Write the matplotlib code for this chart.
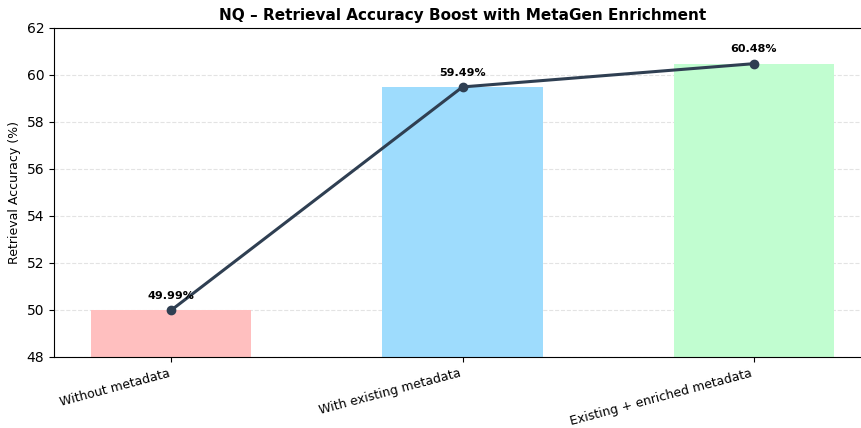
import matplotlib.pyplot as plt
import numpy as np

categories = ['Without metadata', 'With existing metadata', 'Existing + enriched metadata']
accuracy = [49.99, 59.49, 60.48]
bar_colors = ['#ffbfbf', '#9edcfd', '#c1fdd0']

fig = plt.figure(figsize=(8.62, 4.28), dpi=100)
ax = fig.add_axes([0.0626, 0.166, 0.948, 0.7687])

x = np.arange(len(categories))
ax.bar(x, accuracy, width=0.55, color=bar_colors, zorder=2)
ax.plot(x, accuracy, color='#2f3f52', linewidth=2.2, marker='o', markersize=6, zorder=3)

for xi, v in zip(x, accuracy):
    ax.text(xi, v + 0.4, f'{v:.2f}%', ha='center', va='bottom', fontsize=8, fontweight='bold')

ax.set_ylim(48, 62)
ax.set_xlim(-0.4025, 2.4025)
ax.set_yticks(np.arange(48, 63, 2))
ax.set_xticks(x)
ax.set_xticklabels(categories, rotation=15, ha='right', fontsize=9)
ax.set_ylabel('Retrieval Accuracy (%)', fontsize=9)
ax.set_title('NQ – Retrieval Accuracy Boost with MetaGen Enrichment', fontsize=11, fontweight='bold')
ax.yaxis.grid(True, linestyle='--', alpha=0.35, zorder=0)
ax.set_axisbelow(True)

fig.savefig('out.png', dpi=100)
